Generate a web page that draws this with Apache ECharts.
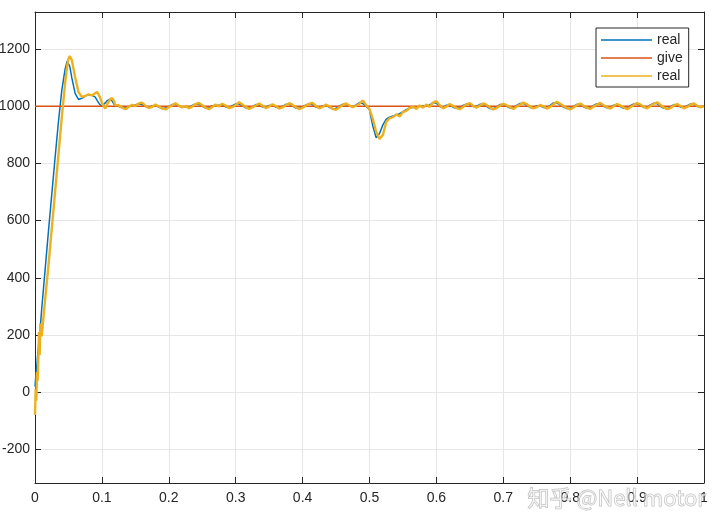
<!DOCTYPE html>
<html>
<head>
<meta charset="utf-8">
<script src="https://cdn.jsdelivr.net/npm/echarts@6/dist/echarts.min.js"></script>
<style>
  html, body { margin: 0; padding: 0; background: #fff; }
  #chart { width: 720px; height: 529px; }
</style>
</head>
<body>
<div id="chart"></div>
<script>
// start-up transient, sampled unevenly
const tStart = [0, 0.001, 0.002, 0.003, 0.004, 0.005, 0.006, 0.007, 0.008, 0.01,
  0.015, 0.02, 0.025, 0.03, 0.035, 0.04, 0.045, 0.048, 0.05, 0.052,
  0.055, 0.06, 0.065, 0.07, 0.075, 0.08, 0.085, 0.09, 0.093, 0.097,
  0.1, 0.105, 0.108, 0.112, 0.115, 0.118, 0.12];
const blueStart = [20, 50, 75, 100, 130, 155, 180, 205, 230, 290,
  425, 560, 690, 820, 945, 1055, 1130, 1158, 1157, 1140,
  1100, 1045, 1024, 1028, 1036, 1040, 1039, 1032, 1020, 1006,
  1001, 1012, 1020, 1025, 1020, 1008, 1000];
const yellowStart = [-80, 10, -30, 70, 40, 120, 210, 130, 240, 195,
  320, 440, 570, 700, 830, 960, 1080, 1140, 1166, 1176,
  1162, 1102, 1050, 1033, 1036, 1042, 1038, 1046, 1050, 1032,
  1012, 992, 1008, 1022, 1030, 1018, 1004];

// steady part, one sample every 0.005 s from 0.125 to 1.0
const steadyFrom = 0.125;
const steadyStep = 0.005;
const blueSteady = [
  1000, 995, 995, 1000, 1003, 1005, 1009, 1006, 999, 996,
  1001, 1003, 997, 992, 994, 1000, 1006, 1006, 1000, 998,
  998, 997, 1003, 1008, 1007, 1000, 994, 995, 1002, 1003,
  1004, 1005, 998, 996, 1002, 1008, 1008, 1002, 995, 994,
  999, 1006, 1005, 998, 997, 1003, 1004, 997, 995, 1000,
  1007, 1007, 1001, 994, 993, 999, 1005, 1009, 1005, 997,
  996, 1002, 1003, 996, 990, 993, 1001, 1007, 1006, 1000,
  999, 1005, 1013, 1010, 1000, 988, 930, 890, 905, 935,
  955, 962, 966, 970, 974, 981, 988, 994, 996, 998,
  999, 1001, 1002, 1005, 1013, 1011, 999, 996, 1004, 1004,
  997, 993, 995, 1003, 1008, 1006, 999, 1000, 1007, 1006,
  1000, 992, 992, 998, 1006, 1006, 1000, 994, 995, 1003,
  1010, 1010, 1003, 996, 996, 1002, 1002, 996, 995, 1003,
  1012, 1012, 1005, 997, 992, 993, 1000, 1007, 1006, 998,
  993, 995, 1003, 1009, 1008, 1000, 995, 996, 1004, 1005,
  999, 993, 994, 1002, 1008, 1008, 1002, 996, 997, 1005,
  1011, 1009, 1000, 993, 992, 999, 1006, 1004, 997, 996,
  1002, 1008, 1006, 999, 998, 1001
];
const yellowSteady = [
  1004, 996, 990, 998, 1005, 1001, 1010, 1013, 1002, 994,
  998, 1006, 1000, 992, 989, 997, 1004, 1011, 1003, 996,
  1001, 993, 999, 1008, 1012, 1004, 995, 990, 998, 1006,
  1000, 1009, 1003, 994, 997, 1005, 1014, 1006, 998, 991,
  996, 1003, 1010, 1002, 994, 999, 1007, 1001, 992, 996,
  1004, 1011, 1005, 997, 990, 995, 1003, 1009, 1012, 1001,
  993, 998, 1006, 1000, 991, 988, 997, 1005, 1010, 1003,
  997, 1002, 1009, 1021, 1004, 990, 955, 910, 886, 900,
  945, 958, 962, 972, 964, 980, 984, 994, 999, 991,
  1003, 995, 1006, 998, 1013, 1018, 1004, 993, 999, 1008,
  1001, 994, 990, 998, 1007, 1011, 1002, 995, 1003, 1010,
  1005, 996, 989, 994, 1002, 1009, 1004, 997, 991, 999,
  1006, 1013, 1008, 999, 993, 997, 1005, 1000, 992, 998,
  1007, 1016, 1009, 1001, 994, 989, 996, 1004, 1010, 1002,
  995, 991, 999, 1006, 1012, 1004, 997, 992, 1000, 1008,
  1003, 996, 990, 997, 1005, 1011, 1006, 998, 993, 1001,
  1009, 1014, 1005, 996, 990, 994, 1003, 1008, 1001, 993,
  998, 1006, 1010, 1002, 996, 1001
];

const tGive = [0, 1];
const giveValues = [1000, 1000];

const xTicks = ['0', '0.1', '0.2', '0.3', '0.4', '0.5', '0.6', '0.7', '0.8', '0.9', '1'];

function joinSeries(t0, v0, v1) {
  const out = t0.map((t, i) => [t, v0[i]]);
  v1.forEach((v, i) => out.push([+(steadyFrom + i * steadyStep).toFixed(3), v]));
  return out;
}

const font = '"Liberation Sans", Arial, Helvetica, sans-serif';
const ink = '#262626';
const gridColor = '#e6e6e6';

const frameAxis = {
  axisLine: { show: true, onZero: false, lineStyle: { color: ink, width: 1 } },
  axisTick: { show: true, inside: true, length: 6, lineStyle: { color: ink } },
};

const chart = echarts.init(document.getElementById('chart'));
chart.setOption({
  animation: false,
  backgroundColor: '#fff',
  grid: { left: 35, right: 16, top: 12, bottom: 46, containLabel: false, outerBoundsMode: 'none' },
  legend: {
    orient: 'vertical',
    left: 596,
    top: 28,
    padding: [5, 6, 4, 5],
    itemWidth: 51,
    itemHeight: 1.5,
    itemGap: 4,
    icon: 'rect',
    borderColor: ink,
    borderWidth: 1,
    backgroundColor: '#fff',
    textStyle: { fontSize: 14, lineHeight: 14, color: ink, fontFamily: font },
    formatter: name => name.trim(),
  },
  xAxis: [
    {
      type: 'value',
      min: 0,
      max: 1,
      interval: 0.1,
      ...frameAxis,
      axisLabel: {
        color: ink, fontSize: 14, fontFamily: font, margin: 8,
        formatter: v => xTicks[Math.round(v * 10)],
      },
      splitLine: { lineStyle: { color: gridColor } },
    },
    {
      type: 'value',
      position: 'top',
      min: 0,
      max: 1,
      interval: 0.1,
      ...frameAxis,
      axisLabel: { show: false },
      splitLine: { show: false },
    },
  ],
  yAxis: [
    {
      type: 'value',
      min: -318,
      max: 1330,
      splitNumber: 8,
      ...frameAxis,
      axisLabel: {
        color: ink, fontSize: 14, fontFamily: font, margin: 5,
        showMinLabel: false, showMaxLabel: false,
        formatter: v => String(v),
      },
      splitLine: { lineStyle: { color: gridColor } },
    },
    {
      type: 'value',
      position: 'right',
      min: -318,
      max: 1330,
      splitNumber: 8,
      ...frameAxis,
      axisLabel: { show: false },
      splitLine: { show: false },
    },
  ],
  series: [
    {
      name: 'real',
      type: 'line',
      symbol: 'none',
      color: '#0072BD',
      lineStyle: { width: 1.5 },
      data: joinSeries(tStart, blueStart, blueSteady),
    },
    {
      name: 'give',
      type: 'line',
      symbol: 'none',
      color: '#D95319',
      lineStyle: { width: 1.5 },
      data: tGive.map((t, i) => [t, giveValues[i]]),
    },
    {
      name: 'real ',
      type: 'line',
      symbol: 'none',
      color: '#EDB120',
      lineStyle: { width: 2.4 },
      data: joinSeries(tStart, yellowStart, yellowSteady),
    },
  ],
  graphic: [
    {
      type: 'text',
      left: 527,
      top: 486,
      z: 100,
      style: {
        text: '知乎 @Nell motor',
        font: '22px "Noto Sans CJK SC", sans-serif',
        fill: 'rgba(255,255,255,0.55)',
        stroke: 'rgba(150,150,150,0.65)',
        lineWidth: 1,
      },
    },
  ],
});
</script>
</body>
</html>
